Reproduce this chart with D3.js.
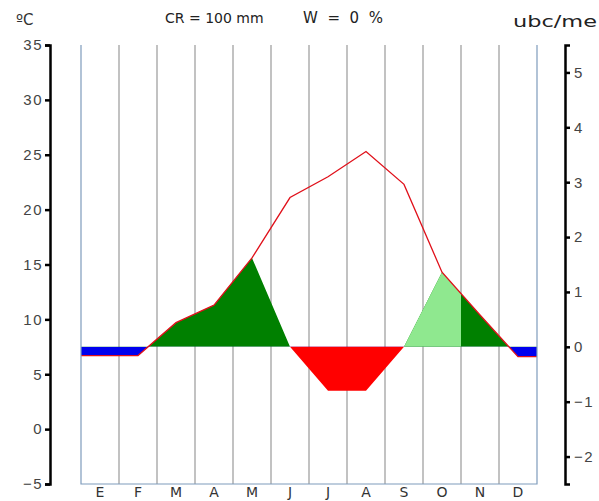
<!DOCTYPE html>
<html>
<head>
<meta charset="utf-8">
<script src="https://cdn.jsdelivr.net/npm/d3@7"></script>
<style>
    body { margin: 0; background: #fff; }
    svg { display: block; font-family: "DejaVu Sans", Verdana, sans-serif; }
    .axis path, .axis line { stroke: #000; stroke-width: 2.5px; }
    .axis text { fill: #444; font-size: 15px; letter-spacing: 1.5px; }
</style>
</head>
<body>
<div id="chart"></div>
<script>

// Diagrama bioclimatico - monthly values
var months = ["E", "F", "M", "A", "M", "J", "J", "A", "S", "O", "N", "D"];
var temperatures = [6.7, 6.7, 9.7, 11.3, 15.6, 21.1, 23.0, 25.3, 22.3, 14.3, 10.4, 6.6];   // ºC
var bioIntensity = [-0.16, -0.16, 0.44, 0.76, 1.62, 0, 0, 0, 0, 1.36, 0.58, -0.18];        // ubc/mes
var dryStop = [0, 0, 0, 0, 0, 0, -0.8, -0.8, 0, 0, 0, 0];                                   // ubc/mes
var freeStart = 8, freeEnd = 9.5;   // month index range of free intensity (light green)

var tempTicks = [-5, 0, 5, 10, 15, 20, 25, 30, 35];
var ubcTicks = [-2, -1, 0, 1, 2, 3, 4, 5];

var width = 599, height = 501;
var margin = {top: 45, right: 62, bottom: 17, left: 81};

var svg = d3.select("#chart").append("svg")
    .attr("width", width)
    .attr("height", height);

// scales
var x = d3.scaleLinear()
    .domain([-0.5, 11.5])
    .range([margin.left, width - margin.right]);

var y = d3.scaleLinear()
    .domain([-5, 35])
    .range([height - margin.bottom, margin.top]);

// ubc axis: 1 ubc = 5 ºC, 0 ubc at 7.5 ºC
var yUbc = d3.scaleLinear()
    .domain([-2.5, 5.5])
    .range([height - margin.bottom, margin.top]);

// extend first / last month to the frame edges
function extend(values) {
    var pts = values.map(function(v, i) { return {i: i, v: v}; });
    pts.unshift({i: -0.5, v: values[0]});
    pts.push({i: 11.5, v: values[values.length - 1]});
    return pts;
}

var defs = svg.append("defs");
var base = yUbc(0);

defs.append("clipPath").attr("id", "above")
    .append("rect")
    .attr("x", x(-0.5)).attr("y", margin.top)
    .attr("width", x(11.5) - x(-0.5)).attr("height", base - margin.top);

defs.append("clipPath").attr("id", "below")
    .append("rect")
    .attr("x", x(-0.5)).attr("y", base)
    .attr("width", x(11.5) - x(-0.5)).attr("height", y(-5) - base);

defs.append("clipPath").attr("id", "free")
    .append("rect")
    .attr("x", x(freeStart)).attr("y", margin.top)
    .attr("width", x(freeEnd) - x(freeStart)).attr("height", base - margin.top);

// month grid
svg.selectAll(".grid")
    .data(d3.range(11))
    .enter().append("line")
    .attr("class", "grid")
    .attr("x1", function(d) { return x(d + 0.5); })
    .attr("x2", function(d) { return x(d + 0.5); })
    .attr("y1", margin.top)
    .attr("y2", y(-5))
    .attr("stroke", "#c2c2c2")
    .attr("stroke-width", 2);

// cold stop (blue) - temperature below 7.5 ºC
var tempArea = d3.area()
    .x(function(d) { return x(d.i); })
    .y0(y(7.5))
    .y1(function(d) { return y(d.v); });

svg.append("path")
    .datum(extend(temperatures))
    .attr("clip-path", "url(#below)")
    .attr("fill", "#0000ee")
    .attr("d", tempArea);

// bioclimatic intensity (green)
var ubcArea = d3.area()
    .x(function(d) { return x(d.i); })
    .y0(base)
    .y1(function(d) { return yUbc(d.v); });

svg.append("path")
    .datum(extend(bioIntensity))
    .attr("clip-path", "url(#above)")
    .attr("fill", "#008000")
    .attr("d", ubcArea);

svg.append("path")
    .datum(extend(bioIntensity))
    .attr("clip-path", "url(#free)")
    .attr("fill", "#8fe88f")
    .attr("d", ubcArea);

// dry stop (red)
svg.append("path")
    .datum(extend(dryStop))
    .attr("fill", "#ff0000")
    .attr("d", ubcArea);

// temperature line
svg.append("path")
    .datum(extend(temperatures))
    .attr("fill", "none")
    .attr("stroke", "#e0101a")
    .attr("stroke-width", 1.3)
    .attr("d", d3.line()
        .x(function(d) { return x(d.i); })
        .y(function(d) { return y(d.v); }));

// frame (left, bottom, right)
svg.append("path")
    .attr("fill", "none")
    .attr("stroke", "#7f9cbc")
    .attr("stroke-width", 1.2)
    .attr("d", "M" + x(-0.5) + "," + margin.top +
        "V" + y(-5) + "H" + x(11.5) + "V" + margin.top);

// axes
svg.append("g")
    .attr("class", "axis")
    .attr("transform", "translate(50,0)")
    .call(d3.axisLeft(y).tickValues(tempTicks).tickSize(5).tickPadding(2));

svg.append("g")
    .attr("class", "axis")
    .attr("transform", "translate(565,0)")
    .call(d3.axisRight(yUbc).tickValues(ubcTicks).tickSize(5).tickPadding(4));

// month labels
svg.selectAll(".month")
    .data(months)
    .enter().append("text")
    .attr("class", "month")
    .attr("x", function(d, i) { return x(i); })
    .attr("y", 497)
    .attr("text-anchor", "middle")
    .attr("font-size", 14)
    .attr("fill", "#333")
    .text(function(d) { return d; });

// titles
svg.append("text").attr("x", 16).attr("y", 25)
    .attr("font-size", 15).attr("fill", "#333").text("ºC");

svg.append("text").attr("x", 165).attr("y", 23)
    .attr("font-size", 14).attr("fill", "#222")
    .text("CR = 100 mm");

svg.append("text").attr("x", 303).attr("y", 23)
    .attr("font-size", 15).attr("fill", "#222")
    .attr("textLength", 80).attr("lengthAdjust", "spacing")
    .text("W = 0 %");

svg.append("text").attr("x", 513).attr("y", 27)
    .attr("font-size", 15).attr("fill", "#222")
    .attr("textLength", 84).attr("lengthAdjust", "spacingAndGlyphs")
    .text("ubc/me");

</script>
</body>
</html>
